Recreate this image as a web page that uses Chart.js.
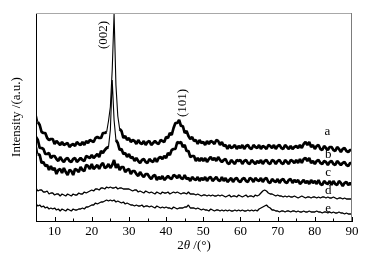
<!DOCTYPE html>
<html>
<head>
<meta charset="utf-8">
<script src="https://cdn.jsdelivr.net/npm/chart.js@4.4.1/dist/chart.umd.min.js"></script>
<style>
  body { margin: 0; background: #fff; }
  canvas { display: block; }
</style>
</head>
<body>
<canvas id="xrd" width="376" height="261"></canvas>
<script>
// scan grid, 5-90 deg with 0.5 deg step
const twoTheta = Array.from({ length: 171 }, (_, i) => 5 + i * 0.5);

const xTickLabels = [10, 20, 30, 40, 50, 60, 70, 80, 90];
const xMinorTicks = [15, 25, 35, 45, 55, 65, 75, 85];
const seriesNames = ['a', 'b', 'c', 'd', 'e'];

const curveA = [
    108, 99, 96, 89, 88, 88, 83, 81, 82, 82,
    77, 80, 78, 76, 79, 76, 77, 78, 74, 76,
    77, 75, 79, 77, 76, 79, 76, 80, 78, 81,
    80, 79, 83, 84, 83, 83, 88, 88, 89, 100,
    114, 151, 207, 136, 105, 92, 90, 83, 85, 81,
    83, 79, 81, 80, 77, 81, 78, 77, 80, 76,
    79, 80, 76, 78, 80, 78, 77, 81, 80, 79,
    84, 83, 88, 86, 93, 98, 98, 101, 95, 95,
    88, 90, 85, 82, 84, 80, 81, 77, 81, 78,
    79, 76, 80, 77, 80, 79, 77, 81, 80, 76,
    79, 75, 76, 72, 76, 73, 74, 76, 72, 75,
    73, 76, 72, 75, 76, 73, 72, 76, 74, 73,
    76, 72, 75, 74, 72, 76, 75, 73, 76, 72,
    75, 76, 73, 72, 76, 74, 72, 75, 72, 74,
    75, 73, 76, 73, 77, 79, 76, 79, 74, 76,
    72, 75, 76, 72, 71, 75, 73, 71, 74, 74,
    71, 70, 74, 72, 69, 72, 73, 70, 69, 71,
    71
];
const curveB = [
    84, 81, 73, 73, 72, 67, 67, 68, 63, 65,
    65, 62, 60, 64, 61, 59, 62, 63, 60, 59,
    62, 63, 59, 61, 63, 61, 60, 65, 64, 63,
    66, 63, 65, 67, 64, 70, 68, 71, 73, 74,
    91, 141, 101, 81, 78, 71, 72, 67, 68, 64,
    67, 63, 64, 60, 63, 60, 58, 61, 62, 59,
    58, 62, 60, 59, 63, 59, 63, 64, 62, 65,
    63, 68, 66, 71, 72, 72, 79, 78, 79, 74,
    76, 70, 70, 64, 65, 65, 60, 63, 60, 63,
    60, 63, 59, 62, 64, 61, 63, 60, 64, 61,
    59, 61, 62, 58, 57, 61, 59, 57, 61, 60,
    61, 57, 60, 61, 58, 57, 61, 59, 57, 60,
    58, 61, 57, 60, 61, 58, 57, 61, 60, 57,
    60, 61, 58, 57, 61, 59, 57, 61, 60, 58,
    61, 58, 62, 58, 62, 63, 60, 63, 58, 60,
    57, 60, 61, 58, 57, 60, 59, 56, 59, 60,
    57, 56, 60, 58, 56, 58, 59, 56, 55, 58,
    58
];
const curveC = [
    78, 67, 66, 58, 59, 55, 56, 51, 55, 51,
    53, 47, 51, 52, 48, 53, 49, 46, 51, 50,
    46, 52, 51, 49, 54, 51, 50, 56, 55, 52,
    57, 52, 54, 56, 52, 56, 58, 53, 54, 57,
    53, 56, 61, 53, 57, 51, 54, 54, 49, 51,
    52, 47, 50, 50, 47, 45, 49, 46, 44, 47,
    47, 44, 42, 45, 46, 41, 44, 42, 45, 41,
    43, 45, 43, 42, 46, 45, 43, 46, 43, 42,
    46, 42, 43, 40, 44, 42, 41, 44, 40, 43,
    41, 44, 40, 43, 44, 40, 42, 44, 41, 40,
    44, 40, 43, 39, 41, 43, 39, 42, 43, 40,
    39, 42, 43, 40, 39, 43, 42, 39, 43, 41,
    40, 43, 39, 42, 43, 39, 38, 42, 40, 39,
    42, 38, 41, 42, 39, 38, 41, 42, 38, 41,
    39, 41, 37, 39, 41, 38, 40, 37, 41, 38,
    40, 37, 41, 37, 36, 40, 38, 37, 40, 36,
    40, 37, 36, 40, 38, 35, 38, 39, 36, 38,
    36
];
const curveD = [
    33, 30, 31, 31, 29, 29, 30, 27, 28, 28,
    26, 27, 27, 25, 27, 26, 25, 27, 26, 25,
    27, 26, 26, 28, 27, 27, 29, 28, 29, 30,
    31, 30, 32, 32, 31, 33, 33, 32, 34, 33,
    34, 33, 33, 34, 32, 33, 33, 32, 32, 32,
    32, 31, 30, 31, 31, 29, 30, 29, 28, 30,
    29, 28, 29, 28, 27, 29, 28, 27, 29, 28,
    28, 29, 27, 28, 29, 28, 29, 28, 27, 28,
    28, 27, 29, 27, 27, 27, 26, 27, 26, 25,
    26, 26, 25, 26, 25, 26, 25, 25, 26, 25,
    26, 25, 24, 25, 26, 24, 25, 25, 24, 26,
    25, 24, 25, 26, 24, 25, 25, 24, 26, 25,
    26, 28, 30, 31, 30, 28, 27, 27, 26, 25,
    26, 25, 25, 24, 25, 24, 25, 24, 24, 25,
    24, 23, 24, 25, 24, 23, 24, 24, 23, 24,
    24, 23, 24, 23, 24, 24, 23, 24, 23, 23,
    24, 23, 22, 23, 23, 22, 23, 22, 22, 22,
    22
];
const curveE = [
    17, 15, 16, 14, 15, 13, 14, 12, 13, 12,
    13, 11, 12, 10, 12, 11, 10, 12, 11, 10,
    12, 11, 11, 12, 12, 13, 12, 14, 14, 15,
    16, 16, 18, 17, 18, 19, 19, 20, 21, 20,
    21, 20, 21, 19, 20, 19, 18, 19, 17, 18,
    17, 16, 16, 15, 16, 15, 15, 16, 14, 15,
    15, 14, 15, 14, 13, 15, 14, 13, 14, 13,
    14, 13, 13, 12, 14, 13, 12, 13, 13, 13,
    14, 14, 16, 13, 13, 13, 12, 13, 12, 11,
    12, 11, 11, 10, 12, 11, 10, 11, 11, 10,
    11, 10, 11, 10, 11, 10, 10, 11, 10, 11,
    10, 11, 10, 10, 11, 10, 11, 10, 11, 10,
    12, 13, 14, 15, 16, 14, 13, 11, 11, 10,
    10, 9, 10, 10, 9, 10, 10, 9, 10, 10,
    9, 10, 9, 9, 10, 9, 9, 10, 9, 9,
    9, 10, 9, 9, 8, 9, 9, 8, 9, 8,
    9, 8, 8, 9, 8, 8, 7, 8, 7, 7,
    7
];

const curves = [curveA, curveB, curveC, curveD, curveE];
const widths = [2.7, 2.7, 2.7, 1.3, 1.3];

curves.forEach((c, i) => {
    if (c.length !== twoTheta.length) console.error('length mismatch', seriesNames[i], c.length);
});

const serif = '"Liberation Serif", "Times New Roman", serif';
Chart.defaults.font.family = serif;
Chart.defaults.color = '#000';

// labels a-e and the two reflections, placed in data coordinates
const curveTags = [
    { text: 'a', x: 83.4, y: 89 },
    { text: 'b', x: 83.6, y: 66 },
    { text: 'c', x: 83.6, y: 48 },
    { text: 'd', x: 83.6, y: 30 },
    { text: 'e', x: 83.6, y: 12 }
];
const peakTags = [
    { text: '(002)', x: 23.3, y: 186 },
    { text: '(101)', x: 44.5, y: 118 }
];

const overlay = {
    id: 'overlay',
    afterDraw(chart) {
        const { ctx, chartArea: ca } = chart;
        const xs = chart.scales.x, ys = chart.scales.y;
        ctx.save();

        // top and right frame lines are grey in the original
        ctx.lineWidth = 1;
        ctx.strokeStyle = '#a8a8a8';
        ctx.beginPath();
        ctx.moveTo(ca.left, ca.top + 0.5);
        ctx.lineTo(ca.right, ca.top + 0.5);
        ctx.stroke();
        ctx.strokeStyle = '#7c7c7c';
        ctx.beginPath();
        ctx.moveTo(ca.right - 0.5, ca.top);
        ctx.lineTo(ca.right - 0.5, ca.bottom);
        ctx.stroke();

        // inward ticks on the bottom axis
        ctx.strokeStyle = '#000';
        const tick = (v, len) => {
            const px = Math.round(xs.getPixelForValue(v)) + 0.5;
            ctx.beginPath();
            ctx.moveTo(px, ca.bottom);
            ctx.lineTo(px, ca.bottom - len);
            ctx.stroke();
        };
        xTickLabels.forEach(v => tick(v, 4));
        xMinorTicks.forEach(v => tick(v, 2.5));

        ctx.fillStyle = '#000';
        ctx.font = '13px ' + serif;
        ctx.textAlign = 'center';
        ctx.textBaseline = 'middle';
        curveTags.forEach(t => {
            ctx.fillText(t.text, xs.getPixelForValue(t.x), ys.getPixelForValue(t.y));
        });
        peakTags.forEach(t => {
            ctx.save();
            ctx.translate(xs.getPixelForValue(t.x), ys.getPixelForValue(t.y));
            ctx.rotate(-Math.PI / 2);
            ctx.fillText(t.text, 0, 0);
            ctx.restore();
        });

        // x title with italic theta
        const parts = [['2', ''], ['\u03b8', 'italic '], [' /(\u00b0)', '']];
        let total = 0;
        parts.forEach(p => { ctx.font = p[1] + '13px ' + serif; total += ctx.measureText(p[0]).width; });
        let cx = (ca.left + ca.right) / 2 - total / 2;
        ctx.textAlign = 'left';
        parts.forEach(p => {
            ctx.font = p[1] + '13px ' + serif;
            ctx.fillText(p[0], cx, 246);
            cx += ctx.measureText(p[0]).width;
        });
        ctx.restore();
    }
};

// steep parts (the sharp reflections) are drawn as a fine line, like the scan
const steepWidth = ctx => (Math.abs(ctx.p1.y - ctx.p0.y) > 9 ? 1.1 : undefined);

new Chart(document.getElementById('xrd'), {
    type: 'line',
    data: {
        datasets: curves.map((c, i) => ({
            label: seriesNames[i],
            data: twoTheta.map((t, j) => ({ x: t, y: c[j] })),
            borderColor: '#000',
            borderWidth: widths[i],
            borderJoinStyle: 'bevel',
            segment: { borderWidth: steepWidth },
            pointRadius: 0,
            tension: 0,
            fill: false
        }))
    },
    options: {
        responsive: false,
        animation: false,
        layout: { padding: { top: 13, right: 24, left: 0, bottom: 0 } },
        plugins: {
            legend: { display: false },
            tooltip: { enabled: false }
        },
        scales: {
            x: {
                type: 'linear',
                min: 5,
                max: 90,
                grid: { display: false, drawTicks: false },
                border: { display: true, color: '#000', width: 1 },
                ticks: { font: { size: 13 }, padding: 3, maxRotation: 0 },
                afterBuildTicks: scale => { scale.ticks = xTickLabels.map(v => ({ value: v })); },
                afterFit: scale => { scale.height = 40; }
            },
            y: {
                min: 0,
                max: 208,
                grid: { display: false, drawTicks: false },
                border: { display: true, color: '#000', width: 1 },
                ticks: { display: false },
                title: {
                    display: true,
                    text: 'Intensity /(a.u.)',
                    font: { size: 13 },
                    padding: { top: 9, bottom: 0 }
                },
                afterFit: scale => { scale.width = 36; }
            }
        }
    },
    plugins: [overlay]
});
</script>
</body>
</html>
